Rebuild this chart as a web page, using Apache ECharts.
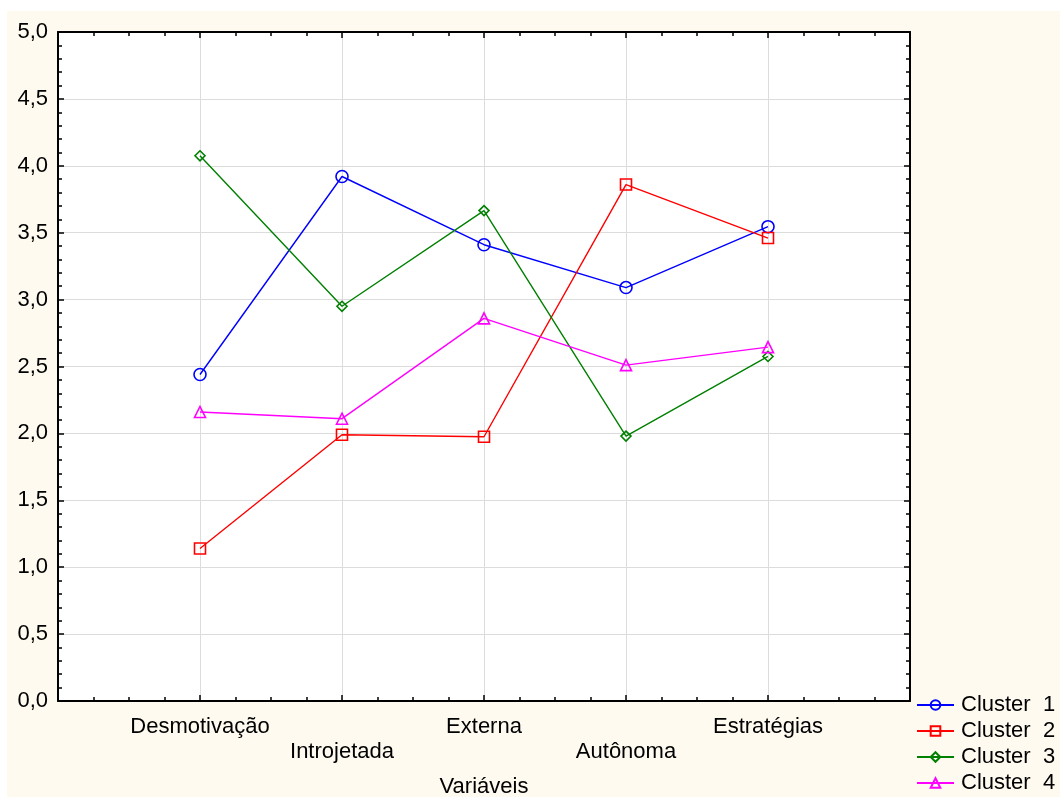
<!DOCTYPE html>
<html><head><meta charset="utf-8">
<script src="https://cdn.jsdelivr.net/npm/echarts@6/dist/echarts.min.js"></script>
<style>html,body{margin:0;padding:0;background:#fff;overflow:hidden}#c{width:1060px;height:799px}</style>
</head><body><div id="c"></div>
<script>
var categories = ['Desmotivação','Introjetada','Externa','Autônoma','Estratégias'];
var cluster1 = [2.44, 3.92, 3.41, 3.09, 3.545];
var cluster2 = [1.14, 1.99, 1.975, 3.86, 3.46];
var cluster3 = [4.075, 2.95, 3.665, 1.98, 2.575];
var cluster4 = [2.16, 2.11, 2.86, 2.51, 2.645];
var seriesNames = ['Cluster  1','Cluster  2','Cluster  3','Cluster  4'];

var FONT = '"Liberation Sans", Arial, sans-serif';
function pts(arr){ return arr.map(function(v,i){ return [i+1, v]; }); }
var colors = ['#0000ff','#ff0000','#008000','#ff00ff'];
var symbols = ['circle','rect','diamond','triangle'];
var sizes = [12, 11, 10, 11];
var datas = [cluster1, cluster2, cluster3, cluster4];

var series = datas.map(function(d, k){
  return {
    name: seriesNames[k], type: 'line', data: pts(d),
    symbol: symbols[k], symbolSize: sizes[k], showAllSymbol: true,
    color: colors[k],
    lineStyle: {color: colors[k], width: 1.4},
    itemStyle: {color: 'rgba(255,255,255,0)', borderColor: colors[k], borderWidth: 1.6},
    emphasis: {disabled: true}, animation: false, z: 3
  };
});

var chart = echarts.init(document.getElementById('c'), null, {renderer: 'canvas'});
chart.setOption({
  backgroundColor: '#ffffff',
  animation: false,
  textStyle: {fontFamily: FONT},
  graphic: [{type: 'rect', z: -10, silent: true, shape: {x: 7, y: 11, width: 1053, height: 786}, style: {fill: '#fefaf0'}}],
  grid: {left: 58, top: 32, width: 852, height: 669, show: true, backgroundColor: '#ffffff', borderWidth: 0,
         containLabel: false, outerBoundsMode: 'none'},
  legend: {
    orient: 'vertical', left: 916, top: 694, padding: 0, itemGap: 4, itemWidth: 37, itemHeight: 12,
    textStyle: {fontFamily: FONT, fontSize: 22, color: '#000', padding: [0,0,0,2]},
    data: seriesNames
  },
  xAxis: [{
    type: 'value', min: 0, max: 6, interval: 1, position: 'bottom',
    name: 'Variáveis', nameLocation: 'middle', nameGap: 75,
    nameTextStyle: {fontFamily: FONT, fontSize: 22, color: '#000'},
    axisLine: {show: true, onZero: false, lineStyle: {color: '#000', width: 2}},
    axisTick: {show: true, inside: true, length: 6, lineStyle: {color: '#000', width: 1.5}},
    minorTick: {show: true, splitNumber: 4, length: 4, lineStyle: {color: '#000', width: 1.5}},
    splitLine: {show: true, lineStyle: {color: '#dcdcdc', width: 1}},
    axisLabel: {
      fontFamily: FONT, fontSize: 22, color: '#000', margin: 13, lineHeight: 25,
      formatter: function(v){
        var i = Math.round(v) - 1;
        if (i < 0 || i >= categories.length) return '';
        return (i % 2 === 1) ? '\n' + categories[i] : categories[i];
      }
    }
  },{
    type: 'value', min: 0, max: 6, interval: 1, position: 'top',
    axisLine: {show: true, onZero: false, lineStyle: {color: '#000', width: 2}},
    axisTick: {show: true, inside: true, length: 6, lineStyle: {color: '#000', width: 1.5}},
    minorTick: {show: true, splitNumber: 4, length: 4, lineStyle: {color: '#000', width: 1.5}},
    splitLine: {show: false}, axisLabel: {show: false}
  }],
  yAxis: [{
    type: 'value', min: 0, max: 5, interval: 0.5, position: 'left',
    axisLine: {show: true, onZero: false, lineStyle: {color: '#000', width: 2}},
    axisTick: {show: true, inside: true, length: 6, lineStyle: {color: '#000', width: 1.5}},
    minorTick: {show: true, splitNumber: 5, length: 4, lineStyle: {color: '#000', width: 1.5}},
    splitLine: {show: true, lineStyle: {color: '#dcdcdc', width: 1}},
    axisLabel: {fontFamily: FONT, fontSize: 22, color: '#000', margin: 10,
      formatter: function(v){ return v.toFixed(1).replace('.', ','); }}
  },{
    type: 'value', min: 0, max: 5, interval: 0.5, position: 'right',
    axisLine: {show: true, onZero: false, lineStyle: {color: '#000', width: 2}},
    axisTick: {show: true, inside: true, length: 6, lineStyle: {color: '#000', width: 1.5}},
    minorTick: {show: true, splitNumber: 5, length: 4, lineStyle: {color: '#000', width: 1.5}},
    splitLine: {show: false}, axisLabel: {show: false}
  }],
  series: series
});
</script></body></html>
